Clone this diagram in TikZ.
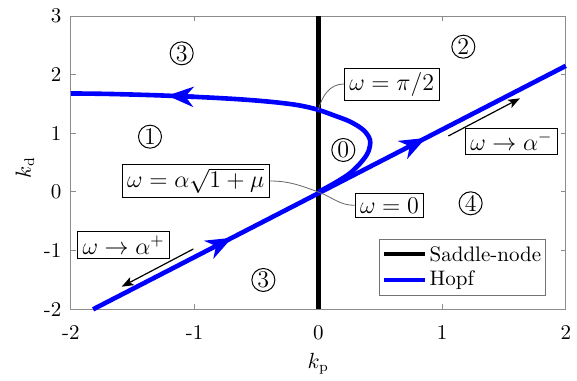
\documentclass[tikz,border=0pt]{standalone}
\usetikzlibrary{arrows.meta,decorations.markings}
\begin{document}
\begin{tikzpicture}[x=61.875pt,y=29.33pt,
  every node/.style={font=\fontsize{10.5}{12.5}\selectfont},
  bigfont/.style={font=\fontsize{12}{14}\selectfont},
  axisframe/.style={draw=black!45, line width=0.5pt},
  hopfline/.style={draw=blue, line width=2.3pt},
  snline/.style={draw=black, line width=2.2pt},
  region/.style={bigfont, circle, draw, line width=0.5pt, inner sep=0.3pt, minimum size=11.5pt},
  labelbox/.style={bigfont, draw, fill=white, line width=0.5pt, inner xsep=2.5pt, inner ysep=2pt},
  leader/.style={draw=black!60, line width=0.4pt},
  bigtip/.style={-{Stealth[length=13pt,width=10pt,inset=4pt]}},
  smalltip/.style={-{Stealth[length=6pt,width=4.5pt,inset=1.5pt]}, line width=0.6pt},
  ticklab/.style={inner sep=0pt},
]
\useasboundingbox (-2.5722,-3.2056) rectangle (2.0905,3.2731);

% axes frame and ticks
\draw[axisframe] (-2,-2) rectangle (2,3);
\foreach \v in {-2,-1,0,1,2} {
  \draw[axisframe] (\v,-2) -- ++(0,2.5pt);
  \draw[axisframe] (\v,3) -- ++(0,-2.5pt);
  \node[ticklab, anchor=north] (xl\v) at ([yshift=-7.8pt]\v,-2) {\v};
}
\foreach \v in {-2,-1,0,1,2,3} {
  \draw[axisframe] (-2,\v) -- ++(2.5pt,0);
  \draw[axisframe] (2,\v) -- ++(-2.5pt,0);
  \node[ticklab, anchor=east] (yl\v) at ([xshift=-4.5pt]-2,\v) {\v};
}
\node[anchor=base] (xlabel) at (0,-3.006) {$k_{\mathrm{p}}$};
\node[anchor=base, rotate=90] (ylabel) at (-2.322,0.414) {$k_{\mathrm{d}}$};

% saddle-node line
\draw[snline] (0,-2) -- (0,3);

% Hopf curve
\draw[hopfline] plot[smooth, tension=0.55] coordinates {(0,0) (0.13,0.15) (0.256,0.32) (0.35,0.517) (0.404,0.687) (0.418,0.886) (0.364,1.057) (0.256,1.20) (0.121,1.31) (0,1.40) (-0.15,1.475) (-0.35,1.530) (-0.6,1.575) (-0.9,1.612) (-1.3,1.648) (-1.7,1.672) (-2,1.68)};
\draw[hopfline, bigtip] (-1.0,1.622) -- (-1.22,1.642);

% Hopf line
\draw[hopfline, postaction={decorate},
  decoration={markings,
    mark=at position 0.294 with {\arrow{Stealth[length=13pt,width=10pt,inset=4pt]}},
    mark=at position 0.704 with {\arrow{Stealth[length=13pt,width=10pt,inset=4pt]}}}]
  (-1.82,-2) -- (2,2.15);

% region labels
\node[region] (r3a) at (-1.104,2.364) {3};
\node[region] (r2) at (1.172,2.477) {2};
\node[region] (r1) at (-1.36,0.943) {1};
\node[region] (r0) at (0.202,0.716) {0};
\node[region] (r4) at (1.231,-0.193) {4};
\node[region] (r3b) at (-0.444,-1.5) {3};

% annotation boxes
\coordinate (orig) at (0,0);
\coordinate (cross) at (0,1.40);
\node[labelbox] (bpi) at (0.593,1.841) {$\omega=\pi/2$};
\node[labelbox] (bsq) at (-0.991,0.1875) {$\omega=\alpha\sqrt{1+\mu}$};
\node[labelbox] (bz) at (0.575,-0.227) {$\omega=0$};
\node[labelbox] (bam) at (1.56,0.864) {$\omega\to\alpha^{-}$};
\node[labelbox] (bap) at (-1.573,-0.903) {$\omega\to\alpha^{+}$};

\draw[leader] (bpi.west) to[out=180,in=75] (cross);
\draw[leader] (bsq.east) to[out=0,in=160] (orig);
\draw[leader] (bz.west) to[out=180,in=-20] (orig);

\coordinate (am0) at (1.051,0.955);
\coordinate (am1) at (1.63,1.597);
\coordinate (ap0) at (-1.01,-0.972);
\coordinate (ap1) at (-1.589,-1.614);
\draw[smalltip] (am0) -- (am1);
\draw[smalltip] (ap0) -- (ap1);

% legend
\draw[draw=black!55, line width=0.5pt, fill=white] (0.4905,-0.806) rectangle (1.8376,-1.768);
\coordinate (lk0) at (0.531,-1.057);
\coordinate (lk1) at (0.862,-1.057);
\coordinate (lb0) at (0.531,-1.5);
\coordinate (lb1) at (0.862,-1.5);
\draw[snline] (lk0) -- (lk1);
\draw[hopfline] (lb0) -- (lb1);
\node[anchor=west, inner sep=0pt] (lgsn) at (0.897,-1.057) {Saddle-node};
\node[anchor=west, inner sep=0pt] (lgh) at (0.897,-1.5) {Hopf};
\end{tikzpicture}
\end{document}
